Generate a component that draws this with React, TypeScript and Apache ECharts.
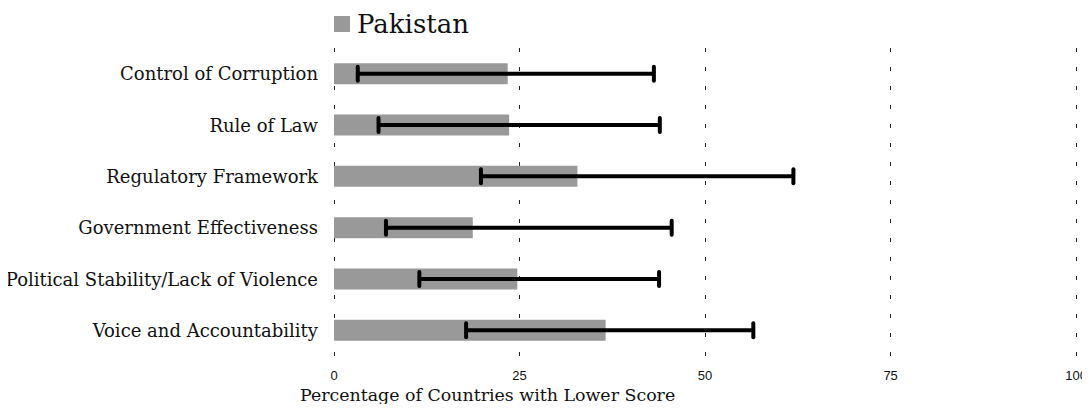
import React, { useEffect, useRef } from "react";
import * as echarts from "echarts";

const categories = [
  "Control of Corruption",
  "Rule of Law",
  "Regulatory Framework",
  "Government Effectiveness",
  "Political Stability/Lack of Violence",
  "Voice and Accountability",
];
const pakistan = [23.4, 23.6, 32.8, 18.7, 24.7, 36.6];
const lowerBound = [3.2, 6.0, 19.8, 7.0, 11.5, 17.8];
const upperBound = [43.1, 43.9, 61.9, 45.5, 43.8, 56.5];
const xTicks = [0, 25, 50, 75, 100];
const axisTitle = "Percentage of Countries with Lower Score";

const SERIF = "'DejaVu Serif', serif";

export default function App() {
  const ref = useRef<HTMLDivElement>(null);
  useEffect(() => {
    if (!ref.current) return;
    const chart = echarts.init(ref.current, undefined, { renderer: "svg" });
    const errData = categories.map((_, i) => [i, lowerBound[i], upperBound[i]]);
    chart.setOption({
      animation: false,
      backgroundColor: "#fff",
      legend: {
        data: ["Pakistan"],
        left: 329,
        top: 6,
        itemWidth: 16,
        itemHeight: 16,
        itemGap: 4,
        icon: "rect",
        textStyle: { fontFamily: SERIF, fontSize: 26, color: "#111", padding: [0, 0, 0, 2] },
      },
      grid: { left: 334, right: 10, top: 48, height: 308, containLabel: false },
      xAxis: {
        type: "value",
        min: xTicks[0],
        max: xTicks[xTicks.length - 1],
        interval: 25,
        axisLine: { show: false },
        axisTick: { show: false },
        axisLabel: {
          margin: 13,
          fontFamily: "'Liberation Sans', Arial, sans-serif",
          fontSize: 13,
          color: "#111",
          width: 60,
          overflow: "none",
          hideOverlap: false,
          showMaxLabel: true,
        },
        splitLine: {
          show: true,
          lineStyle: { color: "#222", width: 1, type: [4, 15] },
        },
      },
      yAxis: {
        type: "category",
        data: categories,
        inverse: true,
        axisLine: { show: false },
        axisTick: { show: false },
        axisLabel: {
          margin: 16,
          fontFamily: SERIF,
          fontSize: 18,
          color: "#111",
        },
      },
      graphic: [
        {
          type: "text",
          left: 300,
          top: 386,
          style: {
            text: axisTitle,
            fontFamily: SERIF,
            fontSize: 17.4,
            fill: "#111",
          },
        },
      ],
      series: [
        {
          name: "Pakistan",
          type: "bar",
          data: pakistan,
          barWidth: 21,
          itemStyle: { color: "#999999" },
        },
        {
          name: "Range",
          type: "custom",
          data: errData,
          encode: { x: [1, 2], y: 0 },
          renderItem: (params: any, api: any) => {
            const cat = api.value(0);
            const p1 = api.coord([api.value(1), cat]);
            const p2 = api.coord([api.value(2), cat]);
            const h = 7;
            const style = { stroke: "#000", lineWidth: 4, lineCap: "round" };
            return {
              type: "group",
              children: [
                { type: "line", shape: { x1: p1[0], y1: p1[1], x2: p2[0], y2: p2[1] }, style: { stroke: "#000", lineWidth: 4 } },
                { type: "line", shape: { x1: p1[0], y1: p1[1] - h, x2: p1[0], y2: p1[1] + h }, style },
                { type: "line", shape: { x1: p2[0], y1: p2[1] - h, x2: p2[0], y2: p2[1] + h }, style },
              ],
            };
          },
          z: 3,
        },
      ],
    });
    return () => chart.dispose();
  }, []);
  return <div ref={ref} style={{ width: 1090, height: 412, margin: -8 }} />;
}
